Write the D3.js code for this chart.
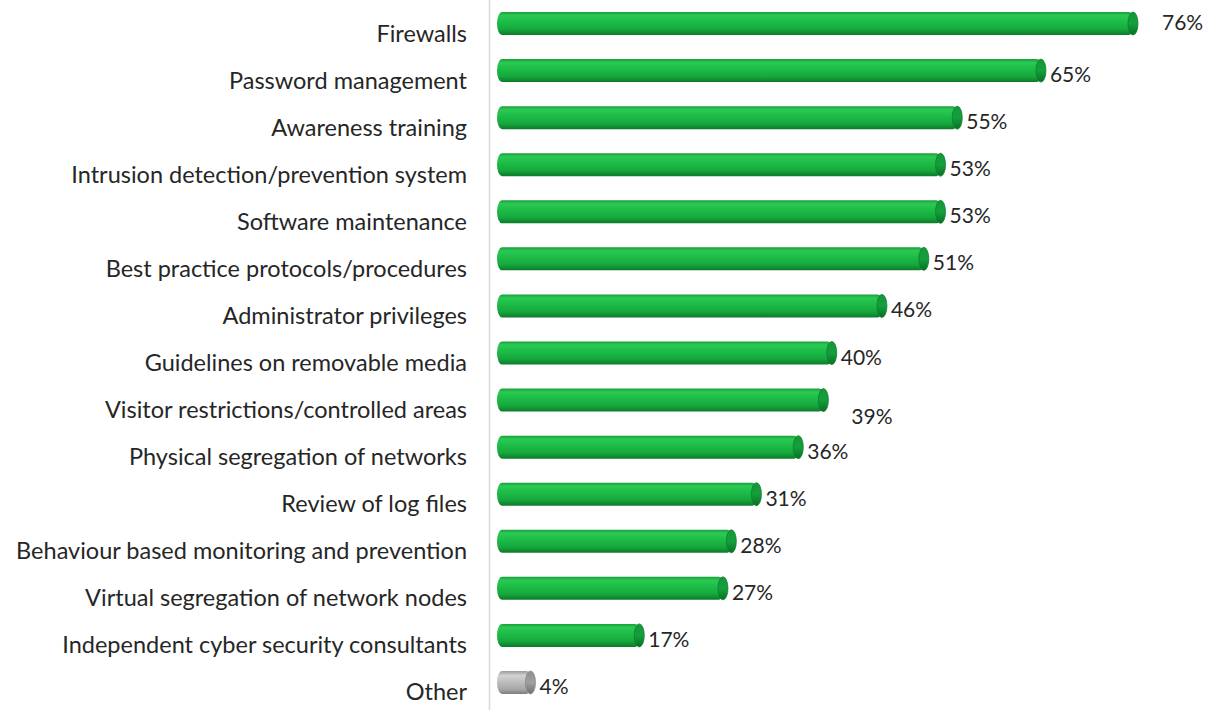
<!DOCTYPE html>
<html><head><meta charset="utf-8">
<script src="https://cdn.jsdelivr.net/npm/d3@7"></script>
<style>body{margin:0;background:#fff}svg{display:block}</style>
</head><body>
<svg id="c" width="1210" height="710"></svg>
<script>
const categories = ["Firewalls","Password management","Awareness training","Intrusion detection/prevention system","Software maintenance","Best practice protocols/procedures","Administrator privileges","Guidelines on removable media","Visitor restrictions/controlled areas","Physical segregation of networks","Review of log files","Behaviour based monitoring and prevention","Virtual segregation of network nodes","Independent cyber security consultants","Other"];
const values = [76,65,55,53,53,51,46,40,39,36,31,28,27,17,4];
const valueLabels = ["76%","65%","55%","53%","53%","51%","46%","40%","39%","36%","31%","28%","27%","17%","4%"];

const svg = d3.select("#c");
const x = d3.scaleLinear().domain([0,76]).range([502,1138]);
const y = d3.scaleBand().domain(categories).range([0,706]).paddingInner(0.5).paddingOuter(0.25);
const bh = 23;
const font = "Lato, 'Open Sans', sans-serif";

const defs = svg.append("defs");
function grad(id, stops){
  const g = defs.append("linearGradient").attr("id",id).attr("x1",0).attr("y1",0).attr("x2",0).attr("y2",1);
  stops.forEach(s=>g.append("stop").attr("offset",s[0]).attr("stop-color",s[1]));
}
grad("gBody",[[0,"#1a9e3a"],[0.15,"#2cc955"],[0.35,"#1fc04a"],[0.75,"#16a83d"],[1,"#0c7a2a"]]);
grad("gCap",[[0,"#16963a"],[0.5,"#13a03d"],[1,"#0a6e25"]]);
grad("oBody",[[0,"#9a9a9a"],[0.2,"#d2d2d2"],[0.45,"#c0c0c0"],[0.8,"#a6a6a6"],[1,"#7e7e7e"]]);
grad("oCap",[[0,"#8f8f8f"],[0.5,"#a0a0a0"],[1,"#6e6e6e"]]);

// axis line
svg.append("line").attr("x1",489.5).attr("x2",489.5).attr("y1",0).attr("y2",710)
  .attr("stroke","#d9d9d9").attr("stroke-width",1.5);

const rows = svg.selectAll("g.row").data(categories.map((c,i)=>({c,v:values[i],l:valueLabels[i]})))
  .enter().append("g").attr("class","row");

const yc = d => y(d.c) + y.bandwidth()/2;
const isOther = d => d.c === "Other";

// body
rows.append("rect")
  .attr("x", x(0)-5).attr("y", d=>yc(d)-bh/2)
  .attr("width", d=>x(d.v)-x(0)+5-4).attr("height", bh)
  .attr("rx", 5).attr("ry", bh/2)
  .attr("fill", d=>isOther(d)?"url(#oBody)":"url(#gBody)");
// end cap
rows.append("ellipse")
  .attr("cx", d=>x(d.v)-5).attr("cy", d=>yc(d))
  .attr("rx", 5).attr("ry", bh/2)
  .attr("fill", d=>isOther(d)?"url(#oCap)":"url(#gCap)")
  .attr("stroke", d=>isOther(d)?"#8a8a8a":"#0f7f2d").attr("stroke-width",0.8);

// category labels
rows.append("text")
  .attr("x", 467).attr("y", d=>yc(d)+9)
  .attr("text-anchor","end").attr("dominant-baseline","central")
  .attr("font-family", font).attr("font-size", 23.5).attr("fill","#262626")
  .text(d=>d.c);

// value labels
const off = {"Firewalls":[20,-5],"Visitor restrictions/controlled areas":[19,12]};
rows.append("text")
  .attr("x", d=>x(d.v)+4+(off[d.c]?off[d.c][0]:0))
  .attr("y", d=>yc(d)+3+(off[d.c]?off[d.c][1]:0))
  .attr("dominant-baseline","central")
  .attr("font-family", font).attr("font-size", 21).attr("fill","#262626")
  .text(d=>d.l);
</script>
</body></html>
